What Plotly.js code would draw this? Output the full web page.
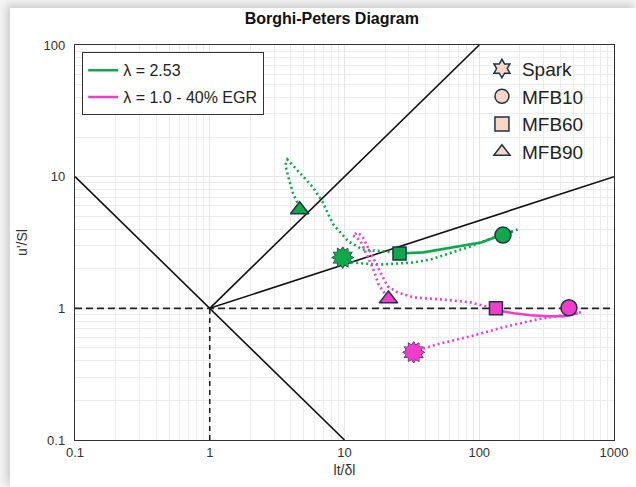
<!DOCTYPE html>
<html><head><meta charset="utf-8">
<script src="https://cdn.plot.ly/plotly-3.0.1.min.js"></script>
<style>
html,body{margin:0;padding:0;background:#f4f4f4;width:636px;height:487px;overflow:hidden;}
#wrap{position:absolute;left:10px;top:8px;width:626px;height:479px;background:#fff;box-shadow:-3px -3px 8px rgba(0,0,0,0.18);}
#chart{width:626px;height:479px;}
</style></head><body><div id="wrap"><div id="chart"></div></div>
<script>
// ---- data ----
var xTickVals = [0.1, 1, 10, 100, 1000];
var xTickText = ['0.1', '1', '10', '100', '1000'];
var yTickVals = [0.1, 1, 10, 100];
var yTickText = ['0.1', '1', '10', '100'];

// regime boundaries
var reLineX = [0.1, 10];      var reLineY = [10, 0.1];
var daLineX = [1, 100];       var daLineY = [1, 100];
var kaLineX = [1, 1000];      var kaLineY = [1, 10];
var unityHX = [0.1, 1000];    var unityHY = [1, 1];
var unityVX = [1, 1];         var unityVY = [0.1, 1];

// lambda = 2.53 (green)
var greenPreX  = [9.7, 10.5, 13.8, 18.5, 24.8, 32.6, 43.6, 86, 128, 193];
var greenPreY  = [2.43, 2.27, 2.19, 2.15, 2.19, 2.23, 2.35, 2.95, 3.45, 3.97];
var greenMainX = [177, 150, 103, 64.6, 38.6, 25.6];
var greenMainY = [3.83, 3.64, 3.16, 2.90, 2.66, 2.61];
var greenPostX = [25.6, 23.1, 13.6, 10.7, 9.34, 8.28, 7.60, 6.86, 5.78, 4.55, 3.77, 3.64, 3.84, 4.18, 4.55];
var greenPostY = [2.61, 2.66, 2.80, 3.22, 3.76, 4.33, 5.15, 6.47, 8.40, 10.9, 13.5, 12.3, 9.83, 7.31, 6.13];
var greenSpark = [9.7, 2.43];
var greenMFB10 = [150, 3.6];
var greenMFB60 = [25.6, 2.61];
var greenMFB90 = [4.65, 5.6];

// lambda = 1.0 - 40% EGR (magenta)
var magPreX  = [32.6, 49.1, 86.4, 152, 272, 479, 568];
var magPreY  = [0.47, 0.534, 0.614, 0.72, 0.825, 0.900, 0.933];
var magMainX = [540, 425, 323, 241, 181, 150, 133];
var magMainY = [0.917, 0.870, 0.870, 0.885, 0.917, 0.949, 0.983];
var magPostX = [133, 86.4, 51.7, 32.6, 24.8, 20.9, 18.5, 15.6, 13.6, 12.5, 11.5, 12.3, 13.2, 14.8, 16.4, 17.9, 19.8];
var magPostY = [0.99, 1.11, 1.17, 1.21, 1.32, 1.47, 1.87, 2.66, 3.51, 3.76, 3.57, 3.45, 3.22, 2.48, 1.97, 1.52, 1.30];
var magSpark = [32.6, 0.464];
var magMFB10 = [463, 1.01];
var magMFB60 = [133, 1.0];
var magMFB90 = [21.2, 1.18];

var seriesNames = ['λ = 2.53', 'λ = 1.0 - 40% EGR'];
var stageNames = ['Spark', 'MFB10', 'MFB60', 'MFB90'];

// ---- styles ----
var GREEN = '#0fa84a', MAG = '#f23ccb', EDGE = '#1c3446', PEACH = '#fbd5c5';
var traces = [];
function line(x, y, color, width, dash) {
  traces.push({x: x, y: y, type: 'scatter', mode: 'lines', showlegend: false, hoverinfo: 'skip',
    line: {color: color, width: width, dash: dash || 'solid'}});
}
line(reLineX, reLineY, '#111', 1.6);
line(daLineX, daLineY, '#111', 1.6);
line(kaLineX, kaLineY, '#111', 1.6);
line(unityHX, unityHY, '#222', 1.6, '7px,4px');
line(unityVX, unityVY, '#222', 1.6, '5px,4px');

line(greenPreX, greenPreY, GREEN, 2.6, '2px,3px');
line(greenPostX, greenPostY, GREEN, 2.6, '2px,3px');
line(greenMainX, greenMainY, GREEN, 2.6);
line(magPreX, magPreY, MAG, 2.6, '2px,3px');
line(magPostX, magPostY, MAG, 2.6, '2px,3px');
line(magMainX, magMainY, MAG, 2.6);

function marker(pt, sym, size, color, angle, lw) {
  traces.push({x: [pt[0]], y: [pt[1]], type: 'scatter', mode: 'markers', showlegend: false, hoverinfo: 'skip',
    marker: {symbol: sym, size: size, color: color, angle: angle || 0, line: {color: EDGE, width: lw}}});
}
function spark(pt, color) {
  marker(pt, 'hexagram', 16, color, 0, 1.1);
  marker(pt, 'hexagram', 16, color, 30, 1.1);
  marker(pt, 'hexagram', 16, color, 0, 0);
  marker(pt, 'hexagram', 16, color, 30, 0);
}
spark(greenSpark, GREEN);
spark(magSpark, MAG);
marker(greenMFB10, 'circle', 16, GREEN, 0, 1.5);
marker(greenMFB60, 'square', 13, GREEN, 0, 1.5);
marker(greenMFB90, 'triangle-up', 16, GREEN, 0, 1.5);
marker(magMFB10, 'circle', 16, MAG, 0, 1.5);
marker(magMFB60, 'square', 13, MAG, 0, 1.5);
marker(magMFB90, 'triangle-up', 16, MAG, 0, 1.5);

// legend 1 (series)
[GREEN, MAG].forEach(function (c, i) {
  traces.push({x: [null], y: [null], type: 'scatter', mode: 'lines', name: seriesNames[i],
    legend: 'legend', legendgroup: 'g' + i, line: {color: c, width: 2.6}});
});
// legend 2 (stages)
var stageSyms = ['hexagram', 'circle', 'square', 'triangle-up'];
stageSyms.forEach(function (s, i) {
  traces.push({x: [null], y: [null], type: 'scatter', mode: 'markers', name: stageNames[i],
    legend: 'legend2', legendgroup: 's' + i,
    marker: {symbol: s, size: 14, color: PEACH, line: {color: EDGE, width: 1.5}}});
});

var minorVals = [];
[0.1, 1, 10, 100].forEach(function (d) { for (var k = 2; k < 10; k++) minorVals.push(d * k); });

var axisBase = {
  type: 'log', showline: true, mirror: true, linecolor: '#333', linewidth: 1.2,
  showgrid: true, gridcolor: '#e4e4e4', gridwidth: 1, zeroline: false, ticks: '',
  tickmode: 'array', tickfont: {size: 13, color: '#333'},
  minor: {tickmode: 'array', tickvals: minorVals, showgrid: true, gridcolor: '#ececec', gridwidth: 1, ticks: ''}
};

var layout = {
  width: 626, height: 479,
  margin: {l: 65, r: 22, t: 37, b: 47},
  paper_bgcolor: '#fff', plot_bgcolor: '#fff',
  font: {family: 'Liberation Sans, Arial, sans-serif', color: '#222'},
  title: {text: '<b>Borghi-Peters Diagram</b>', font: {size: 16, color: '#111'},
    xref: 'container', yref: 'container', x: 0.514, y: 0.979, xanchor: 'center', yanchor: 'middle'},
  xaxis: Object.assign({}, axisBase, {range: [-1, 3], tickvals: xTickVals, ticktext: xTickText,
    title: {text: 'lt/δl', font: {size: 14, color: '#333'}, standoff: 6}}),
  yaxis: Object.assign({}, axisBase, {range: [-1, 2], tickvals: yTickVals, ticktext: yTickText,
    ticklabelstandoff: 6, title: {text: "u'/Sl", font: {size: 14, color: '#333'}, standoff: 12}}),
  legend: {x: 0.013, y: 0.982, xanchor: 'left', yanchor: 'top', bgcolor: '#fff',
    bordercolor: '#333', borderwidth: 1.2, font: {size: 16, color: '#222'}, tracegroupgap: 3, traceorder: 'grouped'},
  legend2: {x: 0.755, y: 0.988, xanchor: 'left', yanchor: 'top', bgcolor: 'rgba(0,0,0,0)',
    borderwidth: 0, font: {size: 19, color: '#222'}, tracegroupgap: 0, traceorder: 'normal', itemwidth: 30},
  showlegend: true
};

Plotly.newPlot('chart', traces, layout, {displayModeBar: false, staticPlot: true});
</script></body></html>
